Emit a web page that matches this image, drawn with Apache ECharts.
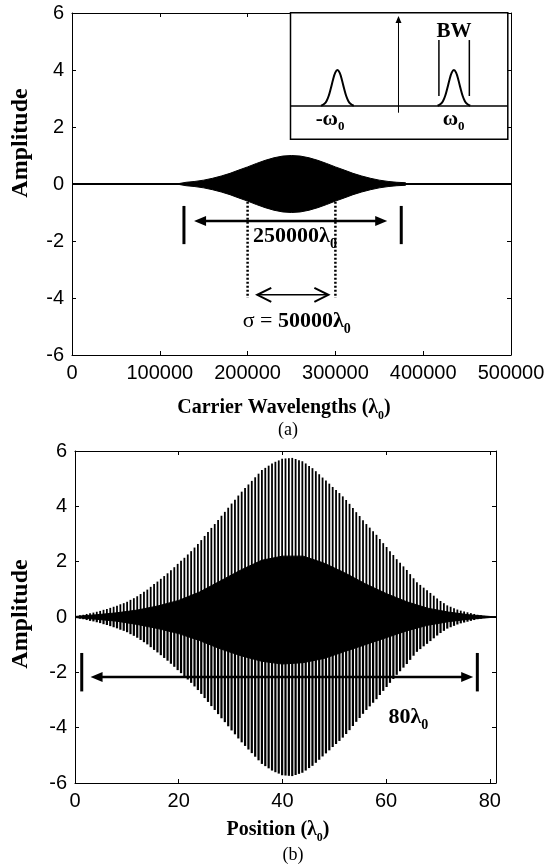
<!DOCTYPE html>
<html><head><meta charset="utf-8">
<script src="https://cdn.jsdelivr.net/npm/echarts@6/dist/echarts.min.js"></script>
<style>html,body{margin:0;padding:0;background:#fff;}#c{width:554px;height:867px;}</style>
</head><body><div id="c"></div>
<script>
// ---------------- data ----------------
// (a) pulse envelope, carrier wavelengths vs amplitude
const pulseX = [119000,120000,130000,140000,150000,160000,170000,180000,190000,200000,210000,220000,230000,240000,250000,
                260000,270000,280000,290000,300000,310000,320000,330000,340000,350000,360000,370000,380000,381000];
const pulseEnv = [0,0.045,0.06,0.09,0.135,0.2,0.28,0.375,0.49,0.6,0.72,0.83,0.92,0.98,1.0,
                  0.98,0.92,0.83,0.72,0.6,0.49,0.375,0.28,0.2,0.135,0.09,0.06,0.045,0];
const topXTicks = [0,100000,200000,300000,400000,500000];
const yTicks = [-6,-4,-2,0,2,4,6];

// (b) position vs amplitude: carrier spikes [position, peak amplitude]
const spikes = [
[0.3,0.03],[0.95,0.06],[1.6,0.08],[2.25,0.11],[2.9,0.14],[3.55,0.16],[4.2,0.19],[4.85,0.22],[5.5,0.26],[6.15,0.29],
[6.8,0.33],[7.45,0.37],[8.1,0.41],[8.75,0.46],[9.4,0.5],[10.05,0.55],[10.7,0.62],[11.35,0.68],[12.0,0.75],[12.65,0.83],
[13.3,0.91],[13.95,0.99],[14.6,1.09],[15.25,1.19],[15.9,1.28],[16.55,1.38],[17.2,1.48],[17.85,1.58],[18.5,1.69],[19.15,1.8],
[19.8,1.92],[20.45,2.03],[21.1,2.14],[21.75,2.26],[22.4,2.38],[23.05,2.51],[23.7,2.64],[24.35,2.78],[25.0,2.93],[25.65,3.07],
[26.3,3.22],[26.95,3.36],[27.6,3.51],[28.25,3.66],[28.9,3.8],[29.55,3.95],[30.2,4.1],[30.85,4.24],[31.5,4.39],[32.15,4.53],
[32.8,4.66],[33.45,4.79],[34.1,4.92],[34.75,5.05],[35.4,5.18],[36.05,5.31],[36.7,5.39],[37.35,5.47],[38.0,5.55],[38.65,5.61],
[39.3,5.66],[39.95,5.72],[40.6,5.73],[41.25,5.74],[41.9,5.75],[42.55,5.71],[43.2,5.67],[43.85,5.63],[44.5,5.55],[45.15,5.46],
[45.8,5.38],[46.45,5.27],[47.1,5.16],[47.75,5.04],[48.4,4.93],[49.05,4.82],[49.7,4.7],[50.35,4.59],[51.0,4.48],[51.65,4.36],
[52.3,4.23],[52.95,4.09],[53.6,3.94],[54.25,3.79],[54.9,3.65],[55.55,3.5],[56.2,3.36],[56.85,3.23],[57.5,3.1],[58.15,2.97],
[58.8,2.82],[59.45,2.67],[60.1,2.53],[60.75,2.38],[61.4,2.24],[62.05,2.09],[62.7,1.96],[63.35,1.83],[64.0,1.7],[64.65,1.55],
[65.3,1.4],[65.95,1.26],[66.6,1.16],[67.25,1.06],[67.9,0.97],[68.55,0.87],[69.2,0.77],[69.85,0.67],[70.5,0.58],[71.15,0.5],
[71.8,0.42],[72.45,0.37],[73.1,0.32],[73.75,0.27],[74.4,0.23],[75.05,0.2],[75.7,0.17],[76.35,0.14],[77.0,0.11],[77.65,0.08],
[78.3,0.06],[78.95,0.04],[79.6,0.03],[80.25,0.02],[80.9,0.01]
];
// solid inner region of (b)
const innerX   = [0,4,8,12,16,20,24,28,32,36,40,44,48,52,56,60,64,68,72,76,80,81.2];
const innerUp  = [0.02,0.08,0.15,0.25,0.4,0.6,0.9,1.3,1.7,2.05,2.2,2.2,1.95,1.6,1.2,0.85,0.55,0.32,0.18,0.08,0.02,0];
const innerLow = [-0.02,-0.08,-0.15,-0.27,-0.42,-0.6,-0.85,-1.15,-1.4,-1.6,-1.7,-1.65,-1.5,-1.25,-1.0,-0.75,-0.5,-0.3,-0.17,-0.08,-0.02,0];
const botXTicks = [0,20,40,60,80];

// inset spectrum (arbitrary inset units 0..100)
const bumpOffsets = [-7.5,-6,-5,-4,-3,-2,-1,0,1,2,3,4,5,6,7.5];
const bumpHeights = [26.5,28.1,30.3,34.4,40.5,47.2,52.6,54.7,52.6,47.2,40.5,34.4,30.3,28.1,26.5];
const bumpCenters = [21.6,75.2];
const insetBase = 26.3;

// ---------------- layout / style ----------------
const SERIF = "'Liberation Serif','Times New Roman',serif";
const SANS = "'Liberation Sans',Arial,sans-serif";
const G0 = {left:72, top:13, width:439, height:342};
const G1 = {left:75, top:451, width:421, height:332};
const G2 = {left:290.5, top:12.7, width:217.3, height:126.6};

function richLam(size){
  return {
    m:{fontSize:size,fontWeight:'bold',fontFamily:SERIF,fill:'#000',color:'#000',lineHeight:size+7},
    r:{fontSize:size,fontWeight:'normal',fontFamily:SERIF,fill:'#000',color:'#000',lineHeight:size+7},
    s:{fontSize:Math.round(size*0.62),fontWeight:'bold',fontFamily:SERIF,fill:'#000',color:'#000',lineHeight:Math.round(size*0.62)+2,verticalAlign:'bottom'}
  };
}

function axis(gridIndex, min, max, interval, position, showLabel, ticks){
  return {
    type:'value', gridIndex, min, max, interval, position,
    axisLine:{show:true,onZero:false,lineStyle:{color:'#000',width:1}},
    axisTick:{show:true,inside:true,length:4,lineStyle:{color:'#000',width:1}},
    splitLine:{show:false},
    axisLabel:{show:showLabel,color:'#000',fontFamily:SANS,fontSize:20,margin:8,
      showMinLabel:true, showMaxLabel:true,
      formatter: v => (ticks.indexOf(v) >= 0 ? String(v) : '')}
  };
}

const pulseUp = pulseX.map((x,i)=>[x,pulseEnv[i]]);
const pulseDn = pulseX.map((x,i)=>[x,-pulseEnv[i]]);

function arrowHead(tip, dir, len, half){ // filled triangle
  return {type:'polygon',shape:{points:[[tip[0],tip[1]],[tip[0]-dir*len,tip[1]-half],[tip[0]-dir*len,tip[1]+half]]},
          style:{fill:'#000'}};
}
function chevron(tip, dir, len, half, w){
  return {type:'polyline',shape:{points:[[tip[0]-dir*len,tip[1]-half],[tip[0],tip[1]],[tip[0]-dir*len,tip[1]+half]]},
          style:{stroke:'#000',lineWidth:w,fill:null}};
}
function seg(p,q,w,dash){
  return {type:'line',shape:{x1:p[0],y1:p[1],x2:q[0],y2:q[1]},style:{stroke:'#000',lineWidth:w,lineDash:dash||null}};
}
function txt(p, text, size){
  return {type:'text',x:p[0],y:p[1],style:{text,rich:richLam(size),align:'center',verticalAlign:'middle',
          textAlign:'center',textVerticalAlign:'middle'}};
}
function gtext(x,y,text,font,rot){
  const e = {type:'text',x,y,style:{text,font,fill:'#000',align:'center',verticalAlign:'middle',
             textAlign:'center',textVerticalAlign:'middle'}};
  if (rot) e.rotation = rot;
  return e;
}
function grich(x,y,text,size){
  return {type:'text',x,y,style:{text,rich:richLam(size),align:'center',verticalAlign:'middle',
          textAlign:'center',textVerticalAlign:'middle'}};
}

const option = {
  animation:false,
  backgroundColor:'#fff',
  grid:[
    Object.assign({show:false},G0),
    Object.assign({show:false},G1),
    Object.assign({show:true,borderColor:'#000',borderWidth:1.5,backgroundColor:'#fff',z:5},G2)
  ],
  xAxis:[
    axis(0,0,500000,100000,'bottom',true,topXTicks),
    axis(0,0,500000,100000,'top',false,topXTicks),
    axis(1,0,81.2,20,'bottom',true,botXTicks),
    axis(1,0,81.2,20,'top',false,botXTicks),
    {type:'value',gridIndex:2,min:0,max:100,show:false}
  ],
  yAxis:[
    axis(0,-6,6,2,'left',true,yTicks),
    axis(0,-6,6,2,'right',false,yTicks),
    axis(1,-6,6,2,'left',true,yTicks),
    axis(1,-6,6,2,'right',false,yTicks),
    {type:'value',gridIndex:2,min:0,max:100,show:false}
  ],
  graphic:[
    gtext(21,143,'Amplitude',"bold 24px "+SERIF,Math.PI/2),
    gtext(21,614,'Amplitude',"bold 24px "+SERIF,Math.PI/2),
    grich(284,408,'{m|Carrier Wavelengths (λ}{s|0}{m|)}',20),
    gtext(288,430,'(a)',"18px "+SERIF),
    grich(278,830,'{m|Position (λ}{s|0}{m|)}',20),
    gtext(293,855,'(b)',"18px "+SERIF)
  ],
  series:[
    // (a)
    {type:'line',xAxisIndex:0,yAxisIndex:0,data:[[0,0],[500000,0]],symbol:'none',lineStyle:{color:'#000',width:2},z:2},
    {type:'line',xAxisIndex:0,yAxisIndex:0,data:pulseUp,symbol:'none',smooth:false,
      lineStyle:{color:'#000',width:1},areaStyle:{color:'#000',opacity:1},z:3},
    {type:'line',xAxisIndex:0,yAxisIndex:0,data:pulseDn,symbol:'none',smooth:false,
      lineStyle:{color:'#000',width:1},areaStyle:{color:'#000',opacity:1},z:3},
    {type:'custom',xAxisIndex:0,yAxisIndex:0,data:[[0,0]],clip:false,silent:true,z:4,
      renderItem:function(params,api){
        const c = p => api.coord(p);
        const ch = [];
        [127500,375000].forEach(x=>ch.push(seg(c([x,-0.77]),c([x,-2.11]),3)));
        const a1 = c([139000,-1.3]), a2 = c([359000,-1.3]);
        ch.push(seg([a1[0]+8,a1[1]],[a2[0]-8,a2[1]],2.5));
        ch.push(arrowHead(a1,-1,12,5)); ch.push(arrowHead(a2,1,12,5));
        [200000,300000].forEach(x=>ch.push(seg(c([x,-0.62]),c([x,-4.0]),2.5,[2,2])));
        const b1 = c([211000,-3.89]), b2 = c([292000,-3.89]);
        ch.push(seg(b1,b2,1.5));
        ch.push(chevron(b1,-1,14,7,2)); ch.push(chevron(b2,1,14,7,2));
        ch.push(txt(c([254000,-1.85]),'{m|250000λ}{s|0}',22));
        ch.push(txt(c([256000,-4.83]),'{r|σ = }{m|50000λ}{s|0}',22));
        return {type:'group',children:ch};
      }},
    // inset
    {type:'line',xAxisIndex:4,yAxisIndex:4,data:[[0,insetBase],[100,insetBase]],symbol:'none',
      lineStyle:{color:'#000',width:1.5},z:6},
    ...bumpCenters.map(cx=>({type:'line',xAxisIndex:4,yAxisIndex:4,symbol:'none',z:6,
      data:bumpOffsets.map((d,i)=>[cx+d,bumpHeights[i]]),smooth:0.4,lineStyle:{color:'#000',width:2}})),
    {type:'custom',xAxisIndex:4,yAxisIndex:4,data:[[0,0]],clip:false,silent:true,z:7,
      renderItem:function(params,api){
        const c = p => api.coord(p);
        const ch = [];
        const t = c([49.7,97.4]);
        ch.push(seg(c([49.7,21.0]),[t[0],t[1]+5],1));
        ch.push({type:'polygon',shape:{points:[[t[0],t[1]],[t[0]-3,t[1]+7],[t[0]+3,t[1]+7]]},style:{fill:'#000'}});
        [68.3,82.3].forEach(x=>ch.push(seg(c([x,78.4]),c([x,34.2]),1.5)));
        const bw = c([75.2,85]);
        ch.push({type:'text',x:bw[0],y:bw[1],style:{text:'BW',font:"bold 21px "+SERIF,fill:'#000',
          align:'center',verticalAlign:'middle',textAlign:'center',textVerticalAlign:'middle'}});
        ch.push(txt(c([18.2,15.8]),'{m|-ω}{s|0}',21));
        ch.push(txt(c([75.1,15.8]),'{m|ω}{s|0}',21));
        return {type:'group',children:ch};
      }},
    // (b)
    {type:'line',xAxisIndex:2,yAxisIndex:2,data:[[0,0],[81.2,0]],symbol:'none',lineStyle:{color:'#000',width:1.5},z:2},
    {type:'line',xAxisIndex:2,yAxisIndex:2,data:innerX.map((x,i)=>[x,innerUp[i]]),symbol:'none',
      lineStyle:{color:'#000',width:1},areaStyle:{color:'#000',opacity:1},z:3},
    {type:'line',xAxisIndex:2,yAxisIndex:2,data:innerX.map((x,i)=>[x,innerLow[i]]),symbol:'none',
      lineStyle:{color:'#000',width:1},areaStyle:{color:'#000',opacity:1},z:3},
    {type:'custom',xAxisIndex:2,yAxisIndex:2,data:spikes,silent:true,z:4,encode:{x:0,y:1},
      renderItem:function(params,api){
        const x = api.value(0), a = api.value(1);
        const p0 = api.coord([x,a]), p1 = api.coord([x,0]), p2 = api.coord([x,-a]);
        return {type:'group',children:[seg(p0,p1,1.8),seg(p1,p2,2.2)]};
      }},
    {type:'custom',xAxisIndex:2,yAxisIndex:2,data:[[0,0]],clip:false,silent:true,z:5,
      renderItem:function(params,api){
        const c = p => api.coord(p);
        const ch = [];
        [1.3,77.6].forEach(x=>ch.push(seg(c([x,-1.3]),c([x,-2.69]),3)));
        const a1 = c([3.0,-2.17]), a2 = c([76.8,-2.17]);
        ch.push(seg([a1[0]+8,a1[1]],[a2[0]-8,a2[1]],2.5));
        ch.push(arrowHead(a1,-1,12,5)); ch.push(arrowHead(a2,1,12,5));
        ch.push(txt(c([64.3,-3.64]),'{m|80λ}{s|0}',22));
        return {type:'group',children:ch};
      }}
  ]
};
const chart = echarts.init(document.getElementById('c'));
chart.setOption(option);
</script></body></html>
